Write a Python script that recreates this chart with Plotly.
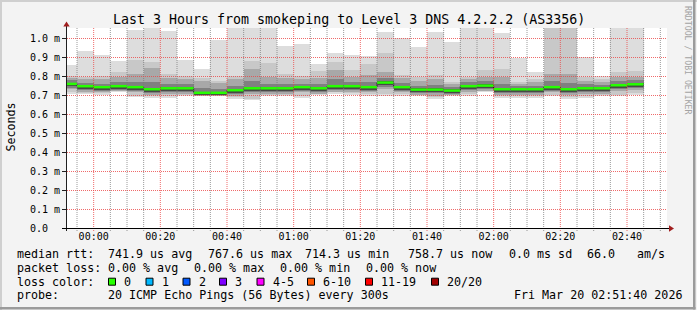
import plotly.graph_objects as go
from datetime import datetime, timedelta

# ---------------- data ----------------
TITLE = "Last 3 Hours from smokeping to Level 3 DNS 4.2.2.2 (AS3356)"
RANGE_START = datetime(2026, 3, 19, 23, 52)
RANGE_END = datetime(2026, 3, 20, 2, 52)
FIRST_BAR_END = datetime(2026, 3, 19, 23, 55)
STEP_MIN = 5

# median RTT per 5-minute step (ms)
median_ms = [0.761, 0.749, 0.744, 0.749, 0.744, 0.733, 0.738, 0.738, 0.714, 0.714,
             0.728, 0.738, 0.738, 0.738, 0.744, 0.738, 0.749, 0.749, 0.744, 0.768,
             0.744, 0.731, 0.731, 0.726, 0.749, 0.752, 0.733, 0.733, 0.733, 0.744,
             0.733, 0.738, 0.738, 0.754, 0.759]
# sorted ping ranks (ms) used for the smoke bands
ping20 = [0.859, 0.933, 0.912, 0.880, 1.044, 1.100, 1.038, 0.888, 0.839, 0.991,
          1.120, 1.080, 1.100, 0.961, 0.972, 0.865, 0.923, 0.912, 0.909, 1.033,
          1.001, 0.956, 1.033, 0.982, 1.150, 1.080, 1.028, 0.898, 0.825, 1.300,
          1.300, 0.902, 0.803, 1.100, 1.100]
ping19 = [0.803, 0.800, 0.803, 0.825, 0.888, 0.877, 0.812, 0.803, 0.790, 0.777,
          0.803, 0.882, 0.872, 0.812, 0.803, 0.830, 0.877, 0.835, 0.865, 0.923,
          0.807, 0.795, 0.807, 0.772, 0.800, 0.835, 0.839, 0.772, 0.786, 1.200,
          1.200, 0.795, 0.786, 0.825, 0.830]
ping17 = [0.790, 0.786, 0.786, 0.800, 0.812, 0.844, 0.790, 0.786, 0.775, 0.768,
          0.786, 0.839, 0.800, 0.790, 0.786, 0.790, 0.835, 0.800, 0.810, 0.824,
          0.790, 0.775, 0.786, 0.760, 0.785, 0.800, 0.800, 0.760, 0.770, 0.812,
          0.815, 0.775, 0.770, 0.800, 0.800]
ping15 = [0.781, 0.768, 0.762, 0.770, 0.772, 0.770, 0.760, 0.758, 0.740, 0.736,
          0.752, 0.775, 0.762, 0.758, 0.762, 0.760, 0.785, 0.772, 0.770, 0.790,
          0.765, 0.752, 0.755, 0.745, 0.770, 0.778, 0.760, 0.752, 0.752, 0.775,
          0.768, 0.758, 0.756, 0.778, 0.780]
ping12 = [0.767, 0.755, 0.750, 0.755, 0.750, 0.739, 0.744, 0.744, 0.720, 0.720,
          0.734, 0.744, 0.744, 0.744, 0.750, 0.744, 0.755, 0.755, 0.750, 0.774,
          0.750, 0.737, 0.737, 0.732, 0.755, 0.758, 0.739, 0.739, 0.739, 0.750,
          0.739, 0.744, 0.744, 0.760, 0.765]
ping08 = [0.748, 0.736, 0.731, 0.736, 0.731, 0.720, 0.725, 0.725, 0.703, 0.703,
          0.715, 0.725, 0.725, 0.725, 0.731, 0.725, 0.736, 0.736, 0.731, 0.755,
          0.731, 0.718, 0.718, 0.713, 0.736, 0.739, 0.720, 0.720, 0.720, 0.731,
          0.720, 0.725, 0.725, 0.741, 0.746]
ping06 = [0.741, 0.729, 0.724, 0.730, 0.724, 0.713, 0.718, 0.718, 0.701, 0.701,
          0.708, 0.718, 0.718, 0.718, 0.724, 0.718, 0.729, 0.729, 0.724, 0.745,
          0.724, 0.711, 0.711, 0.707, 0.729, 0.733, 0.713, 0.713, 0.713, 0.724,
          0.713, 0.718, 0.718, 0.734, 0.739]
ping04 = [0.733, 0.721, 0.716, 0.724, 0.716, 0.705, 0.710, 0.710, 0.699, 0.699,
          0.700, 0.710, 0.710, 0.710, 0.716, 0.710, 0.721, 0.721, 0.716, 0.735,
          0.716, 0.704, 0.700, 0.705, 0.721, 0.726, 0.705, 0.705, 0.705, 0.716,
          0.705, 0.710, 0.710, 0.726, 0.731]
ping02 = [0.716, 0.714, 0.711, 0.722, 0.700, 0.696, 0.696, 0.705, 0.698, 0.698,
          0.691, 0.684, 0.705, 0.705, 0.696, 0.711, 0.716, 0.711, 0.707, 0.707,
          0.707, 0.705, 0.691, 0.702, 0.707, 0.722, 0.696, 0.696, 0.696, 0.705,
          0.691, 0.696, 0.705, 0.705, 0.711]
ping01 = [0.709, 0.707, 0.704, 0.716, 0.693, 0.689, 0.689, 0.698, 0.696, 0.696,
          0.684, 0.677, 0.698, 0.698, 0.689, 0.704, 0.709, 0.704, 0.700, 0.700,
          0.700, 0.698, 0.684, 0.700, 0.700, 0.716, 0.689, 0.689, 0.689, 0.698,
          0.684, 0.689, 0.698, 0.698, 0.704]

y_ticks = [0.0, 0.1, 0.2, 0.3, 0.4, 0.5, 0.6, 0.7, 0.8, 0.9, 1.0]
y_ticktext = ["0.0\u00a0\u00a0", "0.1 m", "0.2 m", "0.3 m", "0.4 m", "0.5 m",
              "0.6 m", "0.7 m", "0.8 m", "0.9 m", "1.0 m"]

rtt_stats = ["741.9 us avg", "767.6 us max", "714.3 us min", "758.7 us now", "0.0 ms sd", "66.0", "am/s"]
loss_stats = ["0.00 % avg", "0.00 % max", "0.00 % min", "0.00 % now"]
loss_labels = ["0", "1", "2", "3", "4-5", "6-10", "11-19", "20/20"]
loss_colors = ["#26ff00", "#00b8ff", "#0059ff", "#7e00ff", "#ff00ff", "#ff5500", "#ff0000", "#a00000"]
probe_text = "20 ICMP Echo Pings (56 Bytes) every 300s"
stamp_text = "Fri Mar 20 02:51:40 2026"

# ---------------- layout geometry ----------------
W, H = 697, 310
ML, MR, MT, MB = 67, 30, 28, 81
PW = W - ML - MR
PH = H - MT - MB                      # 201 px
PX_PER_MS = 190.0
Y_MIN = -0.5 / PX_PER_MS              # value 0 sits on the centre of pixel row 228
Y_MAX = Y_MIN + PH / PX_PER_MS
FONT = "DejaVu Sans Mono"


def px(x):
    return (x - ML) / PW


def py(y):
    return (H - MB - y) / PH


n = len(median_ms)
bar_end = [FIRST_BAR_END + timedelta(minutes=STEP_MIN * k) for k in range(n)]
bar_start = [e - timedelta(minutes=STEP_MIN) for e in bar_end]
bar_mid = [e - timedelta(minutes=STEP_MIN / 2) for e in bar_end]

fig = go.Figure()

bands = [(ping01, ping20, "#dddddd"), (ping02, ping19, "#c8c8c8"),
         (ping04, ping17, "#a8a8a8"), (ping06, ping15, "#808080"),
         (ping08, ping12, "#484848")]
for lo, hi, col in bands:
    fig.add_trace(go.Bar(x=bar_mid, y=[h - l for l, h in zip(lo, hi)], base=lo,
                         width=STEP_MIN * 60 * 1000,
                         marker=dict(color=col, line=dict(width=0)),
                         hoverinfo="skip", showlegend=False))

# dark step connecting medians
fig.add_trace(go.Scatter(x=bar_start + [bar_end[-1]], y=median_ms + [median_ms[-1]],
                         mode="lines", line=dict(color="#202020", width=1, shape="hv"),
                         hoverinfo="skip", showlegend=False))
# green median segments
gx, gy = [], []
for s, e, m in zip(bar_start, bar_end, median_ms):
    gx += [s, e, None]
    gy += [m, m, None]
fig.add_trace(go.Scatter(x=gx, y=gy, mode="lines", line=dict(color="#26ff00", width=2.5),
                         hoverinfo="skip", showlegend=False))

MAJOR = "rgba(235,70,70,0.8)"
MINOR = "rgba(120,120,120,0.75)"
shapes = []
# vertical grid (minor every 5 min, major every 20 min)
t = FIRST_BAR_END
while t < RANGE_END:
    major = (t.minute % 20 == 0)
    shapes.append(dict(type="line", xref="x", yref="paper", x0=t, x1=t,
                       y0=py(231), y1=py(28), layer="above",
                       line=dict(color=MAJOR if major else MINOR, width=1, dash="1px,1px")))
    t += timedelta(minutes=STEP_MIN)
# horizontal grid
for v in y_ticks[1:]:
    shapes.append(dict(type="line", xref="paper", yref="y", x0=0, x1=1, y0=v, y1=v,
                       layer="above",
                       line=dict(color=MAJOR, width=1, dash="1px,1px")))
# axes
shapes.append(dict(type="line", xref="paper", yref="paper", x0=px(66.5), x1=px(66.5),
                   y0=py(231), y1=py(25), layer="above", line=dict(color="#202020", width=1)))
shapes.append(dict(type="line", xref="paper", yref="paper", x0=px(62), x1=px(670),
                   y0=py(228.5), y1=py(228.5), layer="above", line=dict(color="#000000", width=1)))
arrow = "#a01e1e"
shapes.append(dict(type="path", xref="paper", yref="paper", layer="above",
                   path=f"M {px(66.5)},{py(21.5)} L {px(63.3)},{py(26.5)} L {px(69.7)},{py(26.5)} Z",
                   fillcolor=arrow, line=dict(color=arrow, width=0)))
shapes.append(dict(type="path", xref="paper", yref="paper", layer="above",
                   path=f"M {px(674)},{py(228.5)} L {px(669)},{py(225.3)} L {px(669)},{py(231.7)} Z",
                   fillcolor=arrow, line=dict(color=arrow, width=0)))
# frame shading
shapes += [
    dict(type="rect", xref="paper", yref="paper", x0=px(0), x1=px(2), y0=py(310), y1=py(0),
         fillcolor="#cfcfcf", line=dict(width=0), layer="above"),
    dict(type="rect", xref="paper", yref="paper", x0=px(0), x1=px(697), y0=py(2), y1=py(0),
         fillcolor="#cfcfcf", line=dict(width=0), layer="above"),
    dict(type="rect", xref="paper", yref="paper", x0=px(693), x1=px(695.5), y0=py(309.5), y1=py(0),
         fillcolor="#9b9b9b", line=dict(width=0), layer="above"),
    dict(type="rect", xref="paper", yref="paper", x0=px(0), x1=px(695.5), y0=py(309.5), y1=py(307),
         fillcolor="#9b9b9b", line=dict(width=0), layer="above"),
]

LF = 11.66
ann = []


def text(s, x, y, size=LF, color="#000000", xanchor="left", angle=0):
    ann.append(dict(text=s.replace(" ", "\u00a0"), x=px(x), y=py(y), xref="paper", yref="paper",
                    xanchor=xanchor, yanchor="middle", showarrow=False, textangle=angle,
                    borderpad=0, font=dict(family=FONT, size=size, color=color)))


text(TITLE, 348.5, 19, size=13.3, xanchor="center")
text("Seconds", 10, 127.5, angle=-90, xanchor="center")
text("RRDTOOL / TOBI OETIKER", 688, 60, size=8.2, color="#a3a3a3", angle=90, xanchor="center")

y1, y2, y3, y4 = 254.3, 268, 281.7, 295
text("median rtt:", 16, y1)
for s, x in zip(rtt_stats, [107.3, 207.3, 304, 407.3, 507.7, 586, 635.7]):
    text(s, x, y1)
text("packet loss:", 16, y2)
for s, x in zip(loss_stats, [107.3, 193.3, 279.3, 365]):
    text(s, x, y2)
text("loss color:", 16, y3)
for lab, col, bx in zip(loss_labels, loss_colors, [108.5, 146, 183, 219.5, 257, 307.5, 365.5, 431.5]):
    shapes.append(dict(type="rect", xref="paper", yref="paper", x0=px(bx), x1=px(bx + 7),
                       y0=py(y3 + 3.5), y1=py(y3 - 3.5), fillcolor=col,
                       line=dict(color="#000000", width=1), layer="above"))
    text(lab, bx + 14.7, y3)
text("probe:", 16, y4)
text(probe_text, 107.3, y4)
text(stamp_text, 513.3, y4)

fig.update_layout(
    width=W, height=H, autosize=False,
    margin=dict(l=ML, r=MR, t=MT, b=MB, pad=0),
    paper_bgcolor="#f3f3f3", plot_bgcolor="#ffffff",
    barmode="overlay", bargap=0,
    showlegend=False, hovermode=False,
    shapes=shapes, annotations=ann,
    font=dict(family=FONT, size=10, color="#000000"),
    xaxis=dict(type="date", range=[RANGE_START, RANGE_END],
               tickvals=[datetime(2026, 3, 20, 0, 0) + timedelta(minutes=20 * k) for k in range(9)],
               ticktext=[(datetime(2026, 3, 20, 0, 0) + timedelta(minutes=20 * k)).strftime("%H:%M") for k in range(9)],
               showgrid=False, zeroline=False, showline=False, ticks="",
               tickfont=dict(family=FONT, size=10, color="#000000"), fixedrange=True),
    yaxis=dict(range=[Y_MIN, Y_MAX], tickvals=y_ticks, ticktext=y_ticktext,
               showgrid=False, zeroline=False, showline=False,
               ticks="outside", ticklen=4, tickcolor="#202020", tickwidth=1,
               tickfont=dict(family=FONT, size=10, color="#000000"), fixedrange=True),
)

fig.write_html("out.html", config={"displayModeBar": False, "staticPlot": True})
